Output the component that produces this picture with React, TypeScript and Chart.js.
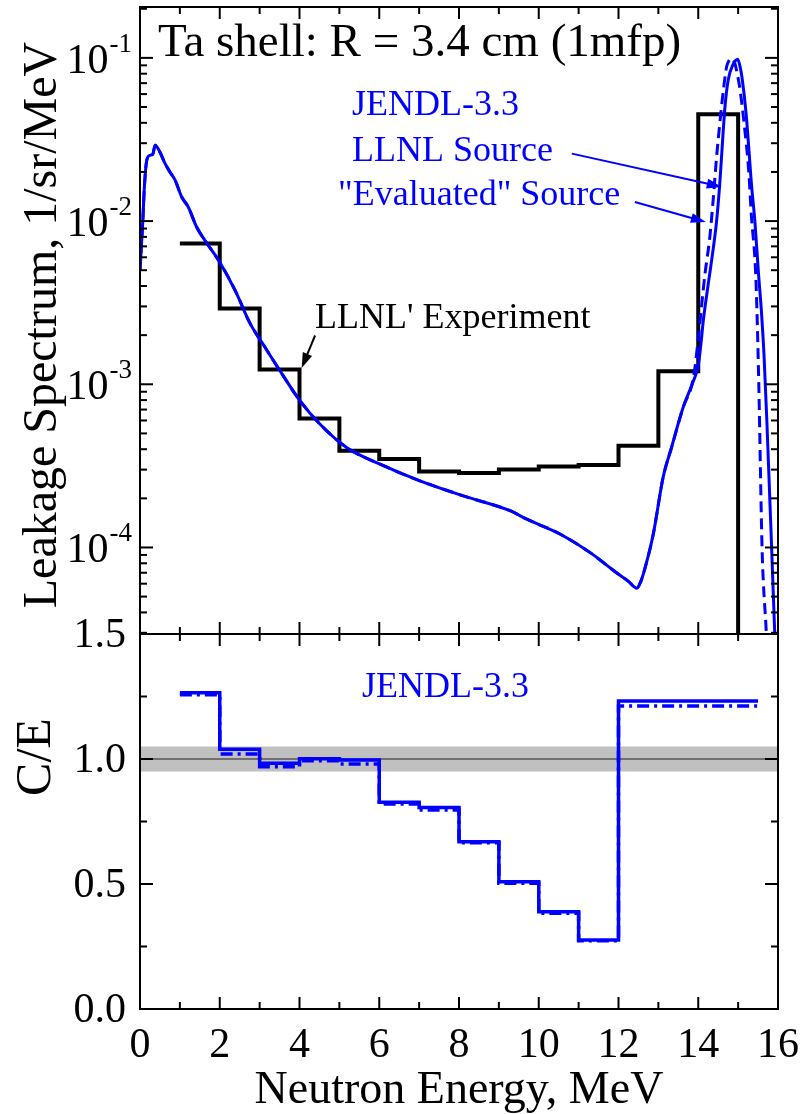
import { useEffect, useRef } from "react";
import { Chart, registerables } from "chart.js";

Chart.register(...registerables);

// ---------- data ----------
// LLNL' measured leakage spectrum, bin edges in MeV and values in 1/sr/MeV
const expEdges = [1, 2, 3, 4, 5, 6, 7, 8, 9, 10, 11, 12, 13, 14, 15];
const expValues = [
  7.3e-3, 2.91e-3, 1.23e-3, 6.18e-4, 3.92e-4, 3.48e-4, 2.92e-4, 2.86e-4,
  3.0e-4, 3.14e-4, 3.2e-4, 4.2e-4, 1.2e-3, 4.52e-2,
];

// JENDL-3.3 calculation with the LLNL source
const llnlEnergy = [
  0, 0.07, 0.11, 0.17, 0.25, 0.32, 0.38, 0.48, 0.63, 0.75, 0.88, 1.05, 1.21,
  1.42, 1.63, 2.0, 2.4, 2.76, 3.1, 3.51, 4.01, 4.51, 5.18, 6.02, 7.02, 8.11,
  9.28, 9.7, 10.53, 11.29, 11.95, 12.25, 12.46, 12.56, 12.66, 12.87, 13.12,
  13.33, 13.62, 13.88, 14.0, 14.06, 14.13, 14.25, 14.38, 14.46, 14.54, 14.61,
  14.67, 14.75, 14.88, 14.94, 14.99, 15.05, 15.1, 15.2, 15.34, 15.42, 15.51,
  15.58, 15.65, 15.72, 15.84, 15.92, 15.97,
];
const llnlValues = [
  5.0e-3, 1.0e-2, 1.62e-2, 2.36e-2, 2.53e-2, 2.57e-2, 2.92e-2, 2.71e-2,
  2.25e-2, 2.0e-2, 1.78e-2, 1.4e-2, 1.22e-2, 9.2e-3, 7.6e-3, 5.6e-3, 3.7e-3,
  2.36e-3, 1.74e-3, 1.21e-3, 7.94e-4, 5.71e-4, 4.1e-4, 3.24e-4, 2.56e-4,
  2.07e-4, 1.68e-4, 1.49e-4, 1.21e-4, 9.3e-5, 7.0e-5, 6.2e-5, 5.63e-5, 6.2e-5,
  7.4e-5, 1.2e-4, 2.7e-4, 4.1e-4, 7.2e-4, 1.05e-3, 1.3e-3, 1.7e-3, 2.5e-3,
  4.1e-3, 6.9e-3, 1.0e-2, 1.7e-2, 3.1e-2, 5.0e-2, 7.3e-2, 9.2e-2, 9.65e-2,
  9.8e-2, 8.8e-2, 7.5e-2, 4.56e-2, 1.62e-2, 1.0e-2, 4.8e-3, 2.9e-3, 1.5e-3,
  6.0e-4, 1.0e-4, 2.9e-5, 1.5e-5,
];

// JENDL-3.3 calculation with the "evaluated" source: identical below 13.88 MeV
const evalSplit = 13.88;
const evalTailEnergy = [
  13.88, 14.0, 14.08, 14.17, 14.29, 14.38, 14.46, 14.54, 14.63, 14.71, 14.78,
  14.84, 14.92, 15.0, 15.05, 15.15, 15.27, 15.33, 15.44, 15.48, 15.52, 15.6,
  15.71, 15.76,
];
const evalTailValues = [
  1.1e-3, 1.9e-3, 2.97e-3, 4.76e-3, 7.98e-3, 1.4e-2, 2.47e-2, 3.96e-2,
  6.34e-2, 8.8e-2, 9.7e-2, 9.9e-2, 9.2e-2, 7.5e-2, 6.34e-2, 3.97e-2, 1.96e-2,
  1.1e-2, 4.8e-3, 2.4e-3, 9.6e-4, 1.0e-4, 2.9e-5, 1.5e-5,
];

// C/E ratios per experimental bin
const ceEdges = [1, 2, 3, 4, 5, 6, 7, 8, 9, 10, 11, 12, 15.5];
const ceLlnl = [1.265, 1.039, 0.983, 1.001, 0.996, 0.827, 0.806, 0.669, 0.509, 0.389, 0.276, 1.232];
const ceEval = [1.257, 1.02, 0.969, 0.993, 0.98, 0.82, 0.796, 0.665, 0.503, 0.383, 0.273, 1.212];

// axis ranges and labels
const energyRange = [0, 16];
const energyTickLabels = [0, 2, 4, 6, 8, 10, 12, 14, 16];
const spectrumRange = [2.95e-5, 0.205];
const decadeLabels = [-1, -2, -3, -4];
const ratioRange = [0, 1.5];
const ratioTickLabels = [0.0, 0.5, 1.0, 1.5];
const ratioBand = [0.95, 1.05];

// ---------- layout / style ----------
const W = 804;
const H = 1114;
const LEFT = 140;
const RIGHT = 778;
const TOP = 7;
const MID = 634;
const BOTTOM = 1009;
const FONT = '"Liberation Serif", "Times New Roman", serif';
const BLUE = "#0000ff";

type Pt = { x: number; y: number };

function stepPoints(edges: number[], values: number[]): Pt[] {
  const pts: Pt[] = [];
  values.forEach((v, i) => {
    pts.push({ x: edges[i], y: v });
    pts.push({ x: edges[i + 1], y: v });
  });
  return pts;
}

function zip(xs: number[], ys: number[]): Pt[] {
  return xs.map((x, i) => ({ x, y: ys[i] }));
}

function line(ctx: CanvasRenderingContext2D, x0: number, y0: number, x1: number, y1: number) {
  ctx.beginPath();
  ctx.moveTo(x0, y0);
  ctx.lineTo(x1, y1);
  ctx.stroke();
}

function arrow(
  ctx: CanvasRenderingContext2D,
  x0: number, y0: number, x1: number, y1: number,
  color: string, width = 2, head = 15, half = 5
) {
  const ang = Math.atan2(y1 - y0, x1 - x0);
  const c = Math.cos(ang);
  const s = Math.sin(ang);
  const bx = x1 - head * c;
  const by = y1 - head * s;
  ctx.save();
  ctx.strokeStyle = color;
  ctx.fillStyle = color;
  ctx.lineWidth = width;
  line(ctx, x0, y0, bx + 2 * c, by + 2 * s);
  ctx.beginPath();
  ctx.moveTo(x1, y1);
  ctx.lineTo(bx + half * s, by - half * c);
  ctx.lineTo(bx - half * s, by + half * c);
  ctx.closePath();
  ctx.fill();
  ctx.restore();
}

function drawEnergyTicks(chart: any, top: boolean, bottom: boolean) {
  const { ctx, chartArea: a } = chart;
  const xs = chart.scales.x;
  for (let e = energyRange[0]; e <= energyRange[1]; e++) {
    const px = xs.getPixelForValue(e);
    const len = e % 2 === 0 ? 12 : 7;
    if (top) line(ctx, px, a.top, px, a.top + len);
    if (bottom) line(ctx, px, a.bottom, px, a.bottom - len);
  }
}

// top panel: leakage spectrum
const spectrumDecor = {
  id: "spectrumDecor",
  afterDraw(chart: any) {
    const { ctx, chartArea: a } = chart;
    const xs = chart.scales.x;
    const ys = chart.scales.y;
    ctx.save();
    ctx.strokeStyle = "#000";
    ctx.fillStyle = "#000";
    ctx.lineWidth = 2;
    ctx.strokeRect(a.left, a.top, a.right - a.left, a.bottom - a.top);
    drawEnergyTicks(chart, true, true);

    for (let k = -6; k <= 0; k++) {
      for (let m = 1; m <= 9; m++) {
        const v = m * Math.pow(10, k);
        if (v < ys.min * 0.999 || v > ys.max * 1.001) continue;
        const py = ys.getPixelForValue(v);
        const len = m === 1 ? 13 : 7;
        line(ctx, a.left, py, a.left + len, py);
        line(ctx, a.right, py, a.right - len, py);
      }
    }

    // decade labels 10^-n
    ctx.textBaseline = "alphabetic";
    ctx.textAlign = "left";
    decadeLabels.forEach((p) => {
      const py = ys.getPixelForValue(Math.pow(10, p));
      const sup = `-${Math.abs(p)}`;
      ctx.font = `27px ${FONT}`;
      const sw = ctx.measureText(sup).width;
      const xr = 132;
      ctx.fillText(sup, xr - sw, py - 6);
      ctx.font = `42px ${FONT}`;
      const bw = ctx.measureText("10").width;
      ctx.fillText("10", xr - sw - 1 - bw, py + 15);
    });

    // y title
    ctx.save();
    ctx.translate(56, 325);
    ctx.rotate(-Math.PI / 2);
    ctx.textAlign = "center";
    ctx.font = `48px ${FONT}`;
    ctx.fillText("Leakage Spectrum, 1/sr/MeV", 0, 0);
    ctx.restore();

    // panel title
    ctx.font = `47px ${FONT}`;
    ctx.fillText("Ta shell: R = 3.4 cm (1mfp)", 158, 56);

    // experiment label and arrow
    ctx.font = `36px ${FONT}`;
    ctx.fillText("LLNL' Experiment", 315, 328);
    arrow(
      ctx,
      xs.getPixelForValue(4.39), ys.getPixelForValue(1.99e-3),
      xs.getPixelForValue(4.055), ys.getPixelForValue(1.26e-3),
      "#000"
    );

    // calculation labels
    ctx.fillStyle = BLUE;
    ctx.font = `36px ${FONT}`;
    ctx.fillText("JENDL-3.3", 352, 115);
    ctx.fillText("LLNL Source", 352, 161);
    ctx.fillText('"Evaluated" Source', 338, 205);
    arrow(
      ctx,
      xs.getPixelForValue(10.83), ys.getPixelForValue(0.0259),
      xs.getPixelForValue(14.59), ys.getPixelForValue(0.0162),
      BLUE
    );
    arrow(
      ctx,
      xs.getPixelForValue(12.41), ys.getPixelForValue(0.0131),
      xs.getPixelForValue(14.19), ys.getPixelForValue(0.00986),
      BLUE
    );
    ctx.restore();
  },
};

// bottom panel: C/E
const ratioDecor = {
  id: "ratioDecor",
  beforeDatasetsDraw(chart: any) {
    const { ctx, chartArea: a } = chart;
    const ys = chart.scales.y;
    ctx.save();
    const y0 = ys.getPixelForValue(ratioBand[1]);
    const y1 = ys.getPixelForValue(ratioBand[0]);
    ctx.fillStyle = "#c0c0c0";
    ctx.fillRect(a.left, y0, a.right - a.left, y1 - y0);
    ctx.strokeStyle = "#707070";
    ctx.lineWidth = 2;
    const py = ys.getPixelForValue(1);
    line(ctx, a.left, py, a.right, py);
    ctx.restore();
  },
  afterDraw(chart: any) {
    const { ctx, chartArea: a } = chart;
    const xs = chart.scales.x;
    const ys = chart.scales.y;
    ctx.save();
    ctx.strokeStyle = "#000";
    ctx.fillStyle = "#000";
    ctx.lineWidth = 2;
    ctx.strokeRect(a.left, a.top, a.right - a.left, a.bottom - a.top);
    drawEnergyTicks(chart, true, true);
    for (let i = 0; i <= 6; i++) {
      const v = i * 0.25;
      const py = ys.getPixelForValue(v);
      const len = i % 2 === 0 ? 13 : 7;
      line(ctx, a.left, py, a.left + len, py);
      line(ctx, a.right, py, a.right - len, py);
    }

    ctx.font = `42px ${FONT}`;
    ctx.textBaseline = "alphabetic";
    ctx.textAlign = "right";
    ratioTickLabels.forEach((v) => {
      ctx.fillText(v.toFixed(1), 126, ys.getPixelForValue(v) + 13);
    });
    ctx.textAlign = "center";
    energyTickLabels.forEach((e) => {
      ctx.fillText(String(e), xs.getPixelForValue(e), 1057);
    });

    ctx.font = `46px ${FONT}`;
    ctx.fillText("Neutron Energy, MeV", 459, 1103);

    ctx.save();
    ctx.translate(50, 757);
    ctx.rotate(-Math.PI / 2);
    ctx.font = `50px ${FONT}`;
    ctx.textAlign = "center";
    ctx.fillText("C/E", 0, 0);
    ctx.restore();

    ctx.fillStyle = BLUE;
    ctx.textAlign = "left";
    ctx.font = `36px ${FONT}`;
    ctx.fillText("JENDL-3.3", 362, 697);
    ctx.restore();
  },
};

export default function App() {
  const topRef = useRef<HTMLCanvasElement>(null);
  const botRef = useRef<HTMLCanvasElement>(null);

  useEffect(() => {
    const evalEnergy = llnlEnergy.filter((e) => e < evalSplit).concat(evalTailEnergy);
    const evalValues = llnlValues
      .filter((_, i) => llnlEnergy[i] < evalSplit)
      .concat(evalTailValues);

    const expPts = stepPoints(expEdges, expValues);
    // closing edge of the last bin down to the axis floor
    expPts.push({ x: expEdges[expEdges.length - 1], y: spectrumRange[0] / 10 });

    const common = {
      responsive: false,
      animation: false as const,
      devicePixelRatio: 1,
      events: [] as any[],
      plugins: { legend: { display: false }, tooltip: { enabled: false }, title: { display: false } },
      elements: { point: { radius: 0 } },
    };

    const top = new Chart(topRef.current!, {
      type: "line",
      data: {
        datasets: [
          {
            data: zip(llnlEnergy, llnlValues),
            borderColor: BLUE,
            borderWidth: 3,
            cubicInterpolationMode: "monotone",
            order: 1,
          },
          {
            data: zip(evalEnergy, evalValues),
            borderColor: BLUE,
            borderWidth: 3,
            borderDash: [11, 6],
            cubicInterpolationMode: "monotone",
            order: 2,
          },
          {
            data: expPts,
            borderColor: "#000",
            borderWidth: 4,
            borderJoinStyle: "miter",
            order: 3,
          },
        ],
      } as any,
      options: {
        ...common,
        layout: { padding: { left: LEFT, right: W - RIGHT, top: TOP, bottom: H - MID } },
        scales: {
          x: { type: "linear", min: energyRange[0], max: energyRange[1], display: false },
          y: { type: "logarithmic", min: spectrumRange[0], max: spectrumRange[1], display: false },
        },
      } as any,
      plugins: [spectrumDecor],
    });

    const bottom = new Chart(botRef.current!, {
      type: "line",
      data: {
        datasets: [
          {
            data: stepPoints(ceEdges, ceLlnl),
            borderColor: BLUE,
            borderWidth: 3.5,
            order: 1,
          },
          {
            data: stepPoints(ceEdges, ceEval),
            borderColor: BLUE,
            borderWidth: 3.5,
            borderDash: [12, 5, 3, 5],
            order: 2,
          },
        ],
      } as any,
      options: {
        ...common,
        layout: { padding: { left: LEFT, right: W - RIGHT, top: MID, bottom: H - BOTTOM } },
        scales: {
          x: { type: "linear", min: energyRange[0], max: energyRange[1], display: false },
          y: { type: "linear", min: ratioRange[0], max: ratioRange[1], display: false },
        },
      } as any,
      plugins: [ratioDecor],
    });

    return () => {
      top.destroy();
      bottom.destroy();
    };
  }, []);

  const canvasStyle: React.CSSProperties = { position: "absolute", left: 0, top: 0, width: W, height: H };
  return (
    <div style={{ position: "absolute", left: 0, top: 0, width: W, height: H, background: "#fff" }}>
      <canvas ref={topRef} width={W} height={H} style={canvasStyle} />
      <canvas ref={botRef} width={W} height={H} style={canvasStyle} />
    </div>
  );
}
